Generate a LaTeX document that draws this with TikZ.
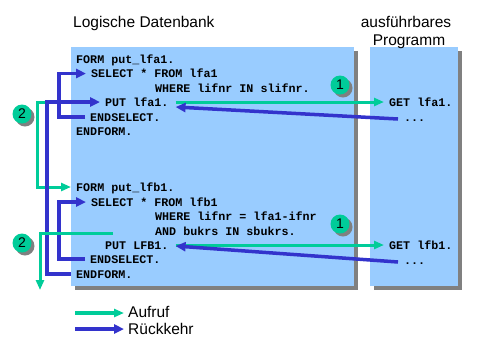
\documentclass[tikz,border=0pt]{standalone}
\usepackage{fontspec}
\setmainfont{Liberation Sans}
\newfontfamily\codefont{Liberation Mono}
\usetikzlibrary{arrows.meta, positioning, calc, shadows}
\definecolor{dbblue}{HTML}{99CCFF}
\definecolor{callgreen}{HTML}{00CC99}
\definecolor{retblue}{HTML}{3333CC}
\definecolor{shadowgray}{HTML}{808080}

\begin{document}
\begin{tikzpicture}[x=1pt, y=-1pt,
  code/.style={font=\codefont\bfseries\fontsize{11.7}{14}\selectfont, anchor=base west,
    inner xsep=5pt, inner ysep=0pt, text height=8pt, text depth=0pt},
  title/.style={font=\fontsize{15.5}{18}\selectfont, inner sep=0pt, anchor=base west},
  call/.style={-{Triangle[length=10pt,width=8pt]}, draw=callgreen, line width=3pt},
  ret/.style={-{Triangle[length=10pt,width=9pt]}, draw=retblue, line width=3.5pt},
  marker/.style={circle, fill=callgreen, minimum size=19pt, inner sep=0pt,
    font=\fontsize{14}{14}\selectfont,
    drop shadow={shadow xshift=3pt, shadow yshift=-3pt, fill=shadowgray, opacity=1}}]
  \useasboundingbox (0,0) rectangle (479,360);

  % boxes with shadow
  \fill[shadowgray] (75,51) rectangle (358,290);
  \fill[dbblue] (71,47) rectangle (354,286);
  \fill[shadowgray] (374,51) rectangle (462,290);
  \fill[dbblue] (370,47) rectangle (458,286);

  % titles
  \node[title] (dbtitle) at (73,27) {Logische Datenbank};
  \node[title, anchor=base] (progtitle) at (406,27) {ausführbares};
  \node[title, anchor=base] (progtitle2) at (409,45) {Programm};

  % put_lfa1
  \node[code] (form1) at (71,63) {FORM put\_lfa1.};
  \node[code] (sel1) at (86,77.5) {SELECT * FROM lfa1};
  \node[code] (where1) at (150,92) {WHERE lifnr IN slifnr.};
  \node[code] (put1) at (100,106) {PUT lfa1.};
  \node[code] (endsel1) at (85,121) {ENDSELECT.};
  \node[code] (endform1) at (71,135) {ENDFORM.};

  % put_lfb1
  \node[code] (form2) at (71,191) {FORM put\_lfb1.};
  \node[code] (sel2) at (86,206) {SELECT * FROM lfb1};
  \node[code] (where2) at (150,220) {WHERE lifnr = lfa1-ifnr};
  \node[code] (and2) at (150,235) {AND bukrs IN sbukrs.};
  \node[code] (put2) at (100,249) {PUT LFB1.};
  \node[code] (endsel2) at (85,263) {ENDSELECT.};
  \node[code] (endform2) at (71,278) {ENDFORM.};

  % program
  \node[code] (get1) at (384,106) {GET lfa1.};
  \node[code] (dots1) at (399,121) {...};
  \node[code] (get2) at (384,249) {GET lfb1.};
  \node[code] (dots2) at (399,264) {...};

  % calls and returns
  \draw[call] ($(put1.west)+(-53,0)$) -- ++(-10,0) |- (form2.west);
  \draw[ret] (endform2.west) -- ++(-24,0) |- (put1.west);
  \draw[ret] (endsel1.west) -- ++(-26,0) |- (sel1.west);
  \draw[ret] (endsel2.west) -- ++(-26,0) |- (sel2.west);
  \coordinate (exit2) at (40,290);
  \draw[call] ($(put2.west)+(13,-12)$) -| (exit2);

  \draw[call] ($(put1.east)+(2,0)$) -- (get1.west);
  \draw[ret] ($(dots1.base west)+(-1,-2)$) -- ($(put1.east)+(2,5)$);
  \draw[call] ($(put2.east)+(2,0)$) -- (get2.west);
  \draw[ret] ($(dots2.base west)+(-1,-2)$) -- ($(put2.east)+(2,1)$);

  \node[marker] (m1a) at (340,85) {1};
  \node[marker] (m1b) at (340,224) {1};
  \node[marker] (m2a) at (22,114) {2};
  \node[marker] (m2b) at (22,243) {2};

  % legend
  \node[title] (aufruf) at (128,317) {Aufruf};
  \node[title] (rueck) at (128,334) {Rückkehr};
  \draw[call, line width=4pt] ($(aufruf.base west)+(-53,-4)$) -- ($(aufruf.base west)+(-4,-4)$);
  \draw[ret, line width=4pt] ($(rueck.base west)+(-53,-5)$) -- ($(rueck.base west)+(-4,-5)$);
\end{tikzpicture}
\end{document}
